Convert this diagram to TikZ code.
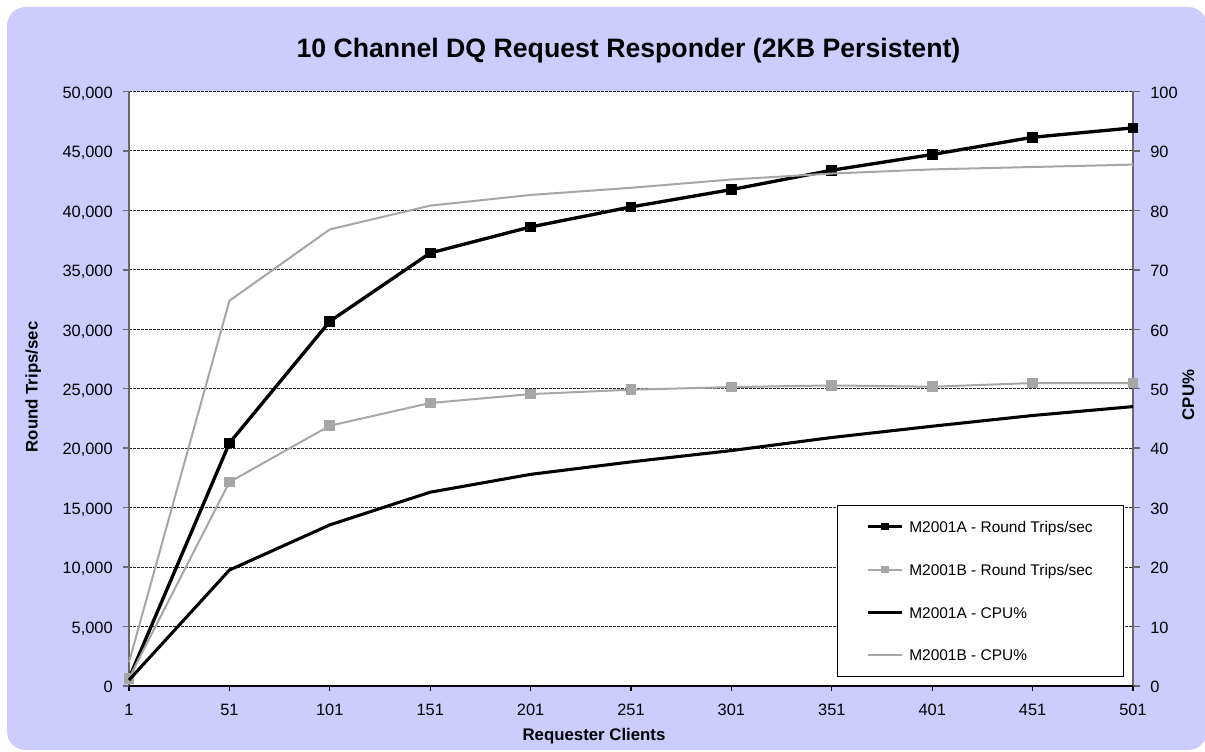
\documentclass[tikz,border=0pt]{standalone}
\usepackage{fontspec}
\setmainfont{Liberation Sans}
\usepackage{tikz}
\usetikzlibrary{positioning}
\definecolor{chartbg}{RGB}{204,204,255}
\definecolor{lightser}{RGB}{166,166,166}
\definecolor{axisgray}{RGB}{105,105,105}
\tikzset{
    x=0.75pt, y=-0.75pt, % one unit is one pixel of the chart, y runs downwards
    gridline/.style={ % dashed horizontal grid lines
        draw=black!85,
        line width=0.7pt,
        dash pattern=on 2.25pt off 0.75pt
    },
    axisline/.style={draw=axisgray, line width=1.1pt},
    ticklabel/.style={inner sep=0pt, font=\fontsize{12.3}{14}\selectfont},
    axistitle/.style={inner sep=0pt, font=\fontsize{12.6}{14}\selectfont\bfseries},
    rtA/.style={draw=black, line width=2.5pt, line join=round},     % M2001A round trips
    rtB/.style={draw=lightser, line width=1.5pt, line join=round},  % M2001B round trips
    cpuA/.style={draw=black, line width=2.3pt, line join=round},    % M2001A cpu
    cpuB/.style={draw=lightser, line width=1.5pt, line join=round}, % M2001B cpu
    sqA/.style={fill=black, inner sep=0pt, minimum size=8pt},
    sqB/.style={fill=lightser, inner sep=0pt, minimum size=8pt},
    legtext/.style={inner sep=0pt, anchor=base west, font=\fontsize{11.6}{14}\selectfont}
}

\begin{document}
\begin{tikzpicture}
    \useasboundingbox (0,0) rectangle (1205,752);
    % background and plot area
    \fill[chartbg, rounded corners=14pt] (7,7) rectangle (1207,750);
    \fill[white] (129,91.5) rectangle (1133,686);

    % grid, every 5,000 / 10%
    \foreach \k in {1,...,10}
        \draw[gridline] (129,{686-59.45*\k}) -- (1133,{686-59.45*\k});

    % axes and ticks
    \draw[axisline] (129,91.5) -- (129,686);
    \draw[axisline] (1133,91.5) -- (1133,686);
    \draw[black, line width=0.9pt] (129,686) -- (1133,686);
    \foreach \k in {0,...,10} {
        \draw[axisline] (123,{686-59.45*\k}) -- (129,{686-59.45*\k});
        \draw[axisline] (1133,{686-59.45*\k}) -- (1140,{686-59.45*\k});
        \pgfmathtruncatemacro\pct{10*\k}
        \node[ticklabel, anchor=base west] (yr\k) at (1150,{692.7-59.45*\k}) {\pct};
    }
    \foreach \k/\lab in {0/0, 1/{5,000}, 2/{10,000}, 3/{15,000}, 4/{20,000}, 5/{25,000},
                         6/{30,000}, 7/{35,000}, 8/{40,000}, 9/{45,000}, 10/{50,000}}
        \node[ticklabel, anchor=base east] (yl\k) at (113,{692.7-59.45*\k}) {\lab};
    \foreach \i in {0,...,10} {
        \draw[black, line width=0.9pt] ({129+100.4*\i},686) -- ({129+100.4*\i},691);
        \pgfmathtruncatemacro\clients{50*\i+1}
        \node[ticklabel, anchor=base] (xl\i) at ({129+100.4*\i},715) {\clients};
    }

    % titles
    \node[inner sep=0pt, anchor=base, font=\fontsize{20}{24}\selectfont\bfseries] (title)
        at (628.5,57.3) {10 Channel DQ Request Responder (2KB Persistent)};
    \node[axistitle, rotate=90, anchor=base] (ytitle) at (37.5,387) {Round Trips/sec};
    \node[axistitle, rotate=90, anchor=base] (y2title) at (1194,395) {CPU\%};
    \node[axistitle, anchor=base] (xtitle) at (594,740.5) {Requester Clients};

    % data points (round trips in thousands, cpu in percent)
    \foreach \v [count=\i from 0] in {0.65,20.43,30.67,36.42,38.61,40.29,41.75,43.38,44.70,46.15,46.94}
        \coordinate (ra\i) at ({129+100.4*\i},{686-11.89*\v});
    \foreach \v [count=\i from 0] in {0.65,17.15,21.89,23.80,24.55,24.92,25.14,25.28,25.17,25.48,25.48}
        \coordinate (rb\i) at ({129+100.4*\i},{686-11.89*\v});
    \foreach \v [count=\i from 0] in {1.0,19.5,27.1,32.6,35.6,37.7,39.6,41.8,43.7,45.5,47.0}
        \coordinate (ca\i) at ({129+100.4*\i},{686-5.945*\v});
    \foreach \v [count=\i from 0] in {4.0,64.8,76.8,80.8,82.6,83.8,85.2,86.2,86.9,87.3,87.7}
        \coordinate (cb\i) at ({129+100.4*\i},{686-5.945*\v});

    % series
    \draw[rtA] (ra0) \foreach \i in {1,...,10} {-- (ra\i)};
    \foreach \i in {0,...,10} \node[sqA] (ma\i) at (ra\i) {};
    \draw[rtB] (rb0) \foreach \i in {1,...,10} {-- (rb\i)};
    \foreach \i in {0,...,10} \node[sqB] (mb\i) at (rb\i) {};
    \draw[cpuA] (ca0) \foreach \i in {1,...,10} {-- (ca\i)};
    \draw[cpuB] (cb0) \foreach \i in {1,...,10} {-- (cb\i)};

    % legend
    \node[draw=black, line width=0.7pt, fill=white, inner sep=0pt, anchor=north west,
          minimum width=215pt, minimum height=128.3pt] (legend) at (836.7,505) {};
    \foreach \y/\sty/\lab [count=\n] in {526.7/rtA/{M2001A - Round Trips/sec}, 569.5/rtB/{M2001B - Round Trips/sec},
                              612.3/cpuA/{M2001A - CPU\%}, 655/cpuB/{M2001B - CPU\%}} {
        \coordinate (ls\n) at (868,\y);
        \coordinate (le\n) at (902,\y);
        \draw[\sty] (ls\n) -- (le\n);
        \node[legtext] (lt\n) at (909,\y+5.7) {\lab};
    }
    \node[sqA, minimum size=5.3pt] (lma) at (885,526.7) {};
    \node[sqB, minimum size=5.3pt] (lmb) at (885,569.5) {};
\end{tikzpicture}
\end{document}
